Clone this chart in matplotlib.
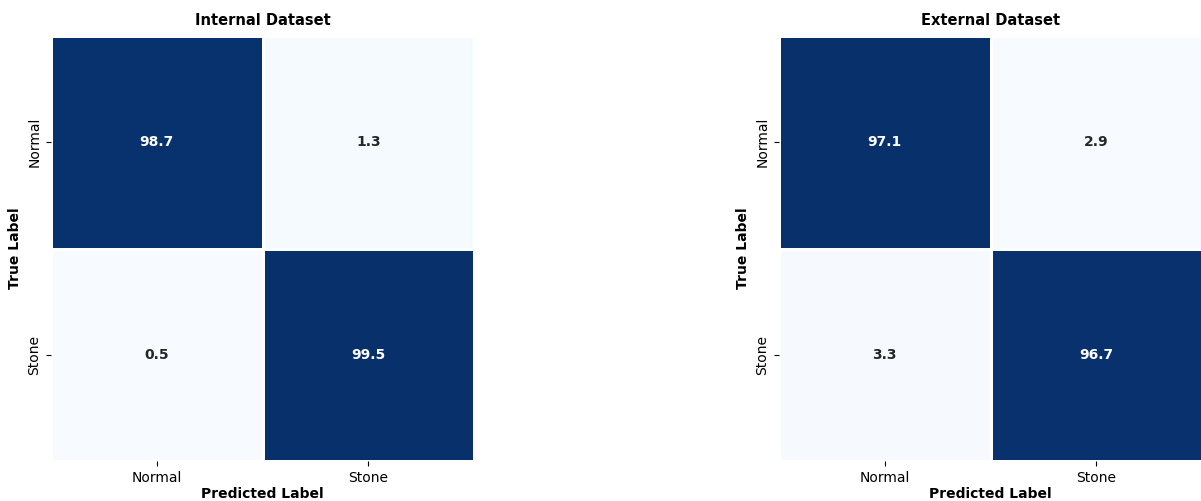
import matplotlib
matplotlib.use('Agg')
import matplotlib.pyplot as plt
import numpy as np
import seaborn as sns

labels = ["Normal", "Stone"]
internal_cm = [[98.7, 1.3],
               [0.5, 99.5]]
external_cm = [[97.1, 2.9],
               [3.3, 96.7]]

fig = plt.figure(figsize=(12.01, 5.01), dpi=100)
ax_int = fig.add_axes([51 / 1201, 1 - 461 / 501, 423 / 1201, 425 / 501])
ax_ext = fig.add_axes([779 / 1201, 1 - 461 / 501, 423 / 1201, 425 / 501])

for ax, cm, title in [(ax_int, internal_cm, "Internal Dataset"),
                      (ax_ext, external_cm, "External Dataset")]:
    sns.heatmap(np.array(cm), ax=ax, annot=True, fmt=".1f", cmap="Blues",
                cbar=False, linewidths=1, linecolor="white",
                xticklabels=labels, yticklabels=labels,
                annot_kws={"fontsize": 10, "fontweight": "bold"})
    ax.set_title(title, fontsize=10.5, fontweight="bold", pad=8)
    ax.set_xlabel("Predicted Label", fontsize=10, fontweight="bold", labelpad=2)
    ax.set_ylabel("True Label", fontsize=10, fontweight="bold")
    ax.tick_params(labelsize=10)
    ax.set_yticklabels(labels, rotation=90, va="center")

fig.savefig("out.png", dpi=100)
